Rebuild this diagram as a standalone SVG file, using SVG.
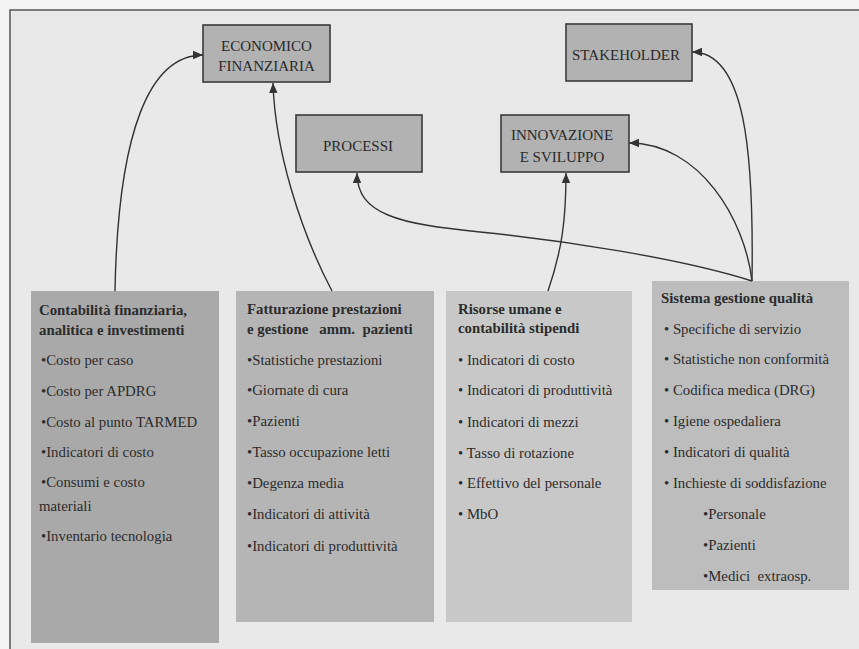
<svg xmlns="http://www.w3.org/2000/svg" width="859" height="649" viewBox="0 0 859 649">
<style>
.bg{fill:#f3f3f3}
.paper{fill:#e9e9e9}
.frame{fill:none;stroke:#555;stroke-width:1.5}
.top rect{fill:#b2b2b2;stroke:#3a3a3a;stroke-width:1.6}
.top text{font-family:"Liberation Serif","Times New Roman",serif;font-size:15px;fill:#2a2a2a;text-anchor:middle}
.col text{font-family:"Liberation Serif","Times New Roman",serif;font-size:14.8px;fill:#2c2c2c}
.col text.h{font-weight:bold}
.conn path{fill:none;stroke:#333;stroke-width:1.4}
</style>
<defs>
<marker id="arr" viewBox="0 0 10 10" refX="10" refY="5" markerWidth="10" markerHeight="10" markerUnits="userSpaceOnUse" orient="auto">
<path d="M0,0.8 L10,5 L0,9.2 Z" fill="#333"/>
</marker>
</defs>
<rect class="bg" x="0" y="0" width="859" height="649"/>
<rect class="paper" x="10" y="10" width="849" height="639"/>
<path class="frame" d="M10,649 L10,10 L859,10"/>

<g id="economico" class="top">
<rect x="203" y="25" width="127" height="57"/>
<text x="266.5" y="51">ECONOMICO</text>
<text x="266.5" y="71">FINANZIARIA</text>
</g>
<g id="processi" class="top">
<rect x="296" y="115" width="126" height="57"/>
<text x="358" y="151">PROCESSI</text>
</g>
<g id="stakeholder" class="top">
<rect x="566" y="24" width="126" height="57"/>
<text x="626" y="60">STAKEHOLDER</text>
</g>
<g id="innovazione" class="top">
<rect x="501" y="115" width="128" height="57"/>
<text x="562" y="140">INNOVAZIONE</text>
<text x="562" y="162">E SVILUPPO</text>
</g>

<g id="contabilita" class="col">
<rect x="31" y="291" width="188" height="352" fill="#a9a9a9"/>
<text class="h" x="39" y="315">Contabilità finanziaria,</text>
<text class="h" x="39" y="335">analitica e investimenti</text>
<text x="41" y="365">•Costo per caso</text>
<text x="41" y="396">•Costo per APDRG</text>
<text x="41" y="427">•Costo al punto TARMED</text>
<text x="41" y="457">•Indicatori di costo</text>
<text x="41" y="487">•Consumi e costo</text>
<text x="39" y="511">materiali</text>
<text x="41" y="541">•Inventario tecnologia</text>
</g>
<g id="fatturazione" class="col">
<rect x="236" y="291" width="198" height="331" fill="#b5b5b5"/>
<text class="h" x="247" y="314">Fatturazione prestazioni</text>
<text class="h" x="247" y="334" xml:space="preserve">e gestione   amm.  pazienti</text>
<text x="247" y="365">•Statistiche prestazioni</text>
<text x="247" y="395">•Giornate di cura</text>
<text x="247" y="426">•Pazienti</text>
<text x="247" y="457">•Tasso occupazione letti</text>
<text x="247" y="488">•Degenza media</text>
<text x="247" y="519">•Indicatori di attività</text>
<text x="247" y="551">•Indicatori di produttività</text>
</g>
<g id="risorse" class="col">
<rect x="446" y="291" width="186" height="331" fill="#c8c8c8"/>
<text class="h" x="458" y="314">Risorse umane e</text>
<text class="h" x="458" y="333">contabilità stipendi</text>
<text x="458" y="365">• Indicatori di costo</text>
<text x="458" y="395">• Indicatori di produttività</text>
<text x="458" y="427">• Indicatori di mezzi</text>
<text x="458" y="458">• Tasso di rotazione</text>
<text x="458" y="488">• Effettivo del personale</text>
<text x="458" y="519">• MbO</text>
</g>
<g id="qualita" class="col">
<rect x="652" y="281" width="197" height="309" fill="#bdbdbd"/>
<text class="h" x="661" y="303">Sistema gestione qualità</text>
<text x="664" y="334">• Specifiche di servizio</text>
<text x="664" y="364">• Statistiche non conformità</text>
<text x="664" y="395">• Codifica medica (DRG)</text>
<text x="664" y="426">• Igiene ospedaliera</text>
<text x="664" y="457">• Indicatori di qualità</text>
<text x="664" y="488">• Inchieste di soddisfazione</text>
<text x="703" y="519">•Personale</text>
<text x="703" y="550">•Pazienti</text>
<text x="703" y="581" xml:space="preserve">•Medici  extraosp.</text>
</g>

<g id="connectors" class="conn">
<path d="M115,291 C118,130 150,55 203,55" marker-end="url(#arr)"/>
<path d="M332,291 C300,230 275,150 273,83" marker-end="url(#arr)"/>
<path d="M752,281 C680,258 560,240 480,232 C400,224 357,215 357,173" marker-end="url(#arr)"/>
<path d="M548,291 C562,250 566,220 566,173" marker-end="url(#arr)"/>
<path d="M752,281 C745,220 700,143 629,143" marker-end="url(#arr)"/>
<path d="M752,281 C754,150 745,52 692,52" marker-end="url(#arr)"/>
</g>
</svg>
